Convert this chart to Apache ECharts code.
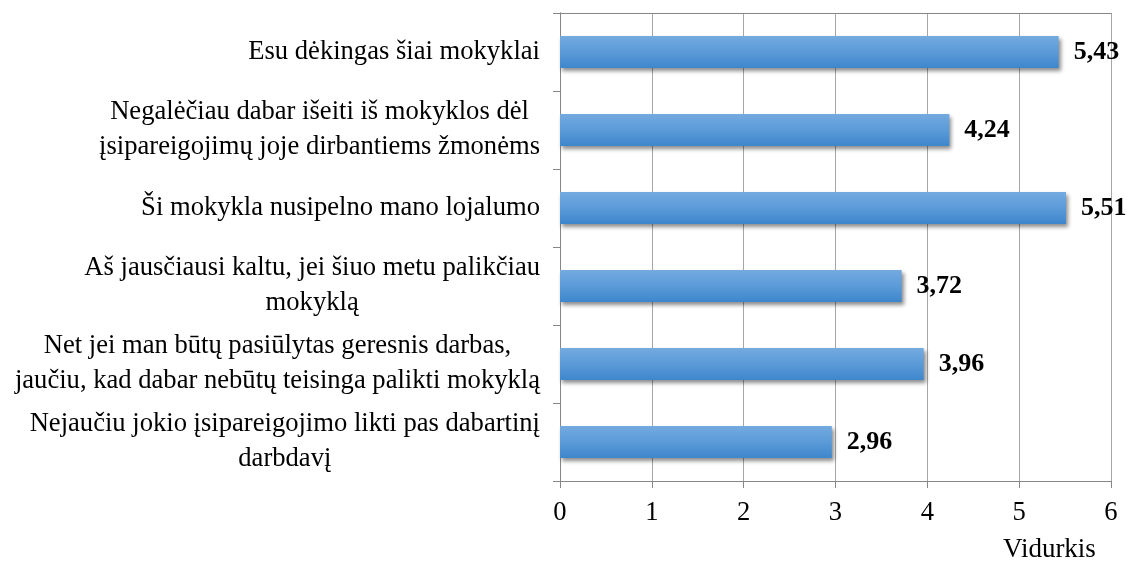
<!DOCTYPE html>
<html>
<head>
<meta charset="utf-8">
<script src="https://cdn.jsdelivr.net/npm/echarts@6/dist/echarts.min.js"></script>
<style>
  html, body { margin: 0; padding: 0; background: #fff; }
  #chart { width: 1131px; height: 562px; }
</style>
</head>
<body>
<div id="chart"></div>
<script>
// teiginiai, iš viršaus į apačią
const categories = [
    'Esu dėkingas šiai mokyklai',
    'Negalėčiau dabar išeiti iš mokyklos dėl\nįsipareigojimų joje dirbantiems žmonėms',
    'Ši mokykla nusipelno mano lojalumo',
    'Aš jausčiausi kaltu, jei šiuo metu palikčiau\nmokyklą',
    'Net jei man būtų pasiūlytas geresnis darbas,\njaučiu, kad dabar nebūtų teisinga palikti mokyklą',
    'Nejaučiu jokio įsipareigojimo likti pas dabartinį\ndarbdavį'
]
const values = [5.43, 4.24, 5.51, 3.72, 3.96, 2.96]
const axisName = 'Vidurkis'

const font = '"Liberation Serif", "Times New Roman", serif'
const labelSize = 26.6
const labelLine = 35

// kelių eilučių tekstas centruojamas: trumpesnėms eilutėms pridedamas dešinys tarpas
const ctx = document.createElement('canvas').getContext('2d')
ctx.font = labelSize + 'px ' + font
const rich = {}
categories.forEach((c, i) => {
    const lines = c.split('\n')
    const widths = lines.map(s => ctx.measureText(s).width)
    const w = Math.max(...widths)
    lines.forEach((s, j) => {
        rich['p' + i + '_' + j] = {
            fontFamily: font, fontSize: labelSize, lineHeight: labelLine, color: '#000',
            padding: [0, (w - widths[j]) / 2, 0, 0]
        }
    })
})

const myChart = echarts.init(document.getElementById('chart'))

const option = {
    animation: false,
    grid: { left: 560, right: 20, top: 13, bottom: 81, containLabel: false, outerBoundsMode: 'none' },
    xAxis: [{
        type: 'value',
        min: 0,
        max: 6,
        interval: 1,
        name: axisName,
        nameLocation: 'end',
        nameGap: -108,
        nameTextStyle: {
            fontFamily: font, fontSize: 27, color: '#000',
            verticalAlign: 'top', padding: [55, 0, 0, 0]
        },
        axisLine: { show: true, lineStyle: { color: '#868686', width: 1 } },
        axisTick: { show: true, length: 7, lineStyle: { color: '#868686' } },
        axisLabel: { fontFamily: font, fontSize: 26.6, color: '#000', margin: 19 },
        splitLine: { show: true, lineStyle: { color: '#a6a6a6', width: 1 } }
    }, {
        // viršutinė rėmelio linija
        type: 'value', position: 'top', min: 0, max: 6,
        axisLine: { show: true, lineStyle: { color: '#868686' } },
        axisTick: { show: false }, axisLabel: { show: false }, splitLine: { show: false }
    }],
    yAxis: [{
        type: 'category',
        inverse: true,
        data: categories,
        axisLine: { show: true, lineStyle: { color: '#868686', width: 1 } },
        axisTick: { show: true, length: 7, lineStyle: { color: '#868686' } },
        axisLabel: {
            interval: 0,
            margin: 20,
            fontFamily: font, fontSize: labelSize, color: '#000',
            lineHeight: labelLine,
            formatter: (v, i) => v.split('\n').map((s, j) => '{p' + i + '_' + j + '|' + s + '}').join('\n'),
            rich: rich
        }
    }, {
        // dešinė rėmelio linija
        type: 'category', position: 'right', data: categories,
        axisLine: { show: true, lineStyle: { color: '#868686' } },
        axisTick: { show: false }, axisLabel: { show: false }, splitLine: { show: false }
    }],
    series: [{
        type: 'bar',
        data: values,
        barWidth: '41%',
        itemStyle: {
            color: new echarts.graphic.LinearGradient(0, 0, 0, 1, [
                { offset: 0, color: '#74aadf' },
                { offset: 0.5, color: '#5b9bd9' },
                { offset: 1, color: '#3e86cb' }
            ]),
            shadowColor: 'rgba(0,0,0,0.45)',
            shadowBlur: 4,
            shadowOffsetX: 2,
            shadowOffsetY: 3
        },
        label: {
            show: true,
            position: 'right',
            distance: 15,
            fontFamily: font, fontSize: 26, fontWeight: 'bold', color: '#000',
            formatter: p => p.value.toFixed(2).replace('.', ',')
        }
    }]
}
myChart.setOption(option)
window.addEventListener('resize', () => { myChart.resize() })
</script>
</body>
</html>
